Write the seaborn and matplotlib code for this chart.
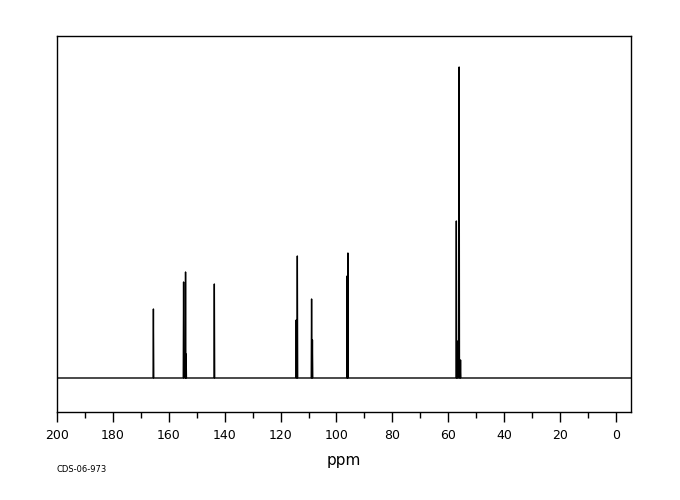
import matplotlib
matplotlib.use("Agg")
import matplotlib.pyplot as plt
import seaborn as sns
import pandas as pd

# peak positions (ppm) and heights (arbitrary units, baseline = 0)
peak_ppm = [165.5, 154.7, 154.0, 153.8, 143.7, 114.4, 114.0, 108.9, 108.6,
            96.2, 95.9, 57.1, 56.8, 56.1, 55.6]
peak_height = [69, 96, 106, 24, 94, 58, 122, 79, 38,
               102, 125, 157, 37, 311, 18]

x_max, x_min = 200, -5.4
half_width = 0.12

# build a stick trace from the peak list
xs, ys = [x_max], [0]
for p, h in sorted(zip(peak_ppm, peak_height), reverse=True):
    xs += [p + half_width, p, p - half_width]
    ys += [0, h, 0]
xs.append(x_min)
ys.append(0)
df = pd.DataFrame({"ppm": xs, "intensity": ys})

sns.set_style("white", {"xtick.bottom": True, "text.color": "black",
                        "xtick.color": "black", "axes.labelcolor": "black"})
plt.rcParams["font.family"] = ["DejaVu Sans"]

fig = plt.figure(figsize=(6.8, 5), dpi=100)
ax = fig.add_axes([57 / 680, 88 / 500, 574 / 680, 376 / 500])

sns.lineplot(data=df, x="ppm", y="intensity", sort=False, estimator=None,
             color="black", linewidth=1, ax=ax)

ax.set_xlim(x_max, x_min)
ax.set_ylim(-34, 342)
ax.set_xticks(range(200, -1, -20))
ax.set_xticks(range(190, 0, -20), minor=True)
ax.tick_params(axis="x", which="major", bottom=True, direction="out", length=7.2,
               width=1, color="black", labelcolor="black", labelsize=9, pad=5)
ax.tick_params(axis="x", which="minor", bottom=True, direction="out", length=4.3,
               width=1, color="black")
ax.set_yticks([])
ax.set_ylabel("")
ax.set_xlabel("ppm", fontsize=11, labelpad=8, color="black")
for s in ax.spines.values():
    s.set_color("black")
    s.set_linewidth(1)
    s.set_visible(True)

fig.text(57 / 680, 1 - 470 / 500, "CDS-06-973", fontsize=6, va="center",
         ha="left", color="black")

fig.savefig("out.png", dpi=100)
